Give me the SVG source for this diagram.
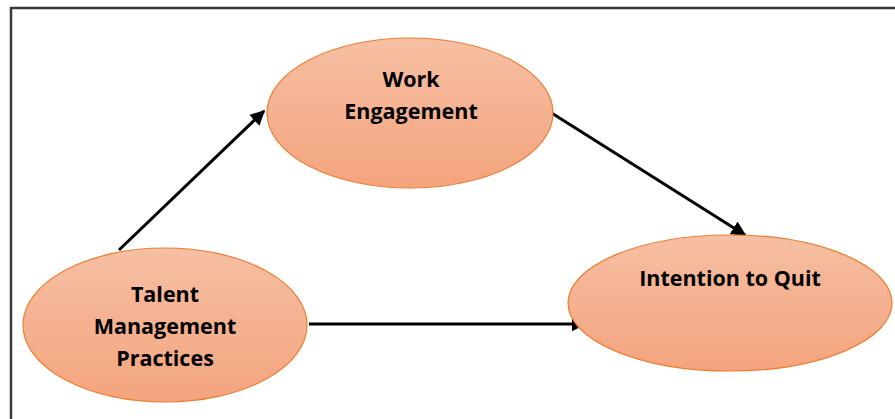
<svg xmlns="http://www.w3.org/2000/svg" width="895" height="419" viewBox="0 0 895 419">
<defs>
<linearGradient id="g" x1="0" y1="0" x2="0" y2="1">
<stop offset="0" stop-color="#F6BFA3"/>
<stop offset="1" stop-color="#F4A47E"/>
</linearGradient>
<marker id="ah" markerWidth="5" markerHeight="5" refX="4.5" refY="2.5" orient="auto" markerUnits="strokeWidth">
<path d="M0,0 L5,2.5 L0,5 Z" fill="#000"/>
</marker>
<style>
.n{fill:url(#g);stroke:#ED7D31;stroke-width:1.2}
.t{font-family:"Open Sans","Liberation Sans",sans-serif;font-weight:bold;font-size:21.5px;fill:#000;text-anchor:middle}
.c{stroke:#000;stroke-width:3;fill:none;marker-end:url(#ah)}
</style>
</defs>
<rect width="895" height="419" fill="#fff"/>
<path d="M11,419 V8 H895" fill="none" stroke="#3a3a3a" stroke-width="2.5"/>
<g id="connectors">
<line class="c" x1="119" y1="250" x2="264" y2="111"/>
<line class="c" x1="550" y1="112" x2="745" y2="235"/>
<line class="c" x1="309" y1="324" x2="585" y2="324"/>
</g>
<g id="work-engagement">
<ellipse class="n" cx="410" cy="113" rx="143" ry="75"/>
<text class="t" x="411" y="87">Work</text>
<text class="t" x="411" y="119">Engagement</text>
</g>
<g id="talent-management">
<ellipse class="n" cx="165" cy="325" rx="142" ry="77"/>
<text class="t" x="165" y="302">Talent</text>
<text class="t" x="165" y="334">Management</text>
<text class="t" x="165" y="366">Practices</text>
</g>
<g id="intention-to-quit">
<ellipse class="n" cx="730" cy="303" rx="162" ry="68"/>
<text class="t" x="730" y="286">Intention to Quit</text>
</g>
</svg>
